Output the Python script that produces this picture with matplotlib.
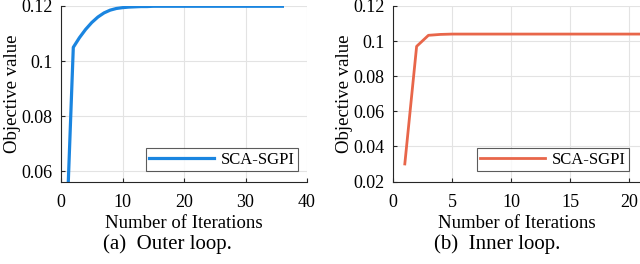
import matplotlib
matplotlib.use("Agg")
import matplotlib.pyplot as plt

# Outer loop data
outer_iter = list(range(1, 37))
outer_vals = [0.045, 0.105, 0.1085, 0.1115, 0.1140, 0.1160, 0.1175, 0.1185, 0.1191, 0.1194,
              0.1196, 0.1197, 0.1198, 0.1198, 0.1199, 0.1199, 0.1199, 0.1199, 0.1199, 0.1199,
              0.1199, 0.1199, 0.1199, 0.1199, 0.1199, 0.1199, 0.1199, 0.1199, 0.1199, 0.1199,
              0.1199, 0.1199, 0.1199, 0.1199, 0.1199, 0.1199]

# Inner loop data
inner_iter = list(range(1, 23))
inner_vals = [0.030, 0.097, 0.1033, 0.1038, 0.1040, 0.1040, 0.1040, 0.1040, 0.1040, 0.1040,
              0.1040, 0.1040, 0.1040, 0.1040, 0.1040, 0.1040, 0.1040, 0.1040, 0.1040, 0.1040,
              0.1040, 0.1040]

outer_xticks = [0, 10, 20, 30, 40]
outer_yticks = [0.06, 0.08, 0.1, 0.12]
outer_ytick_labels = ["0.06", "0.08", "0.1", "0.12"]
inner_xticks = [0, 5, 10, 15, 20]
inner_yticks = [0.02, 0.04, 0.06, 0.08, 0.1, 0.12]
inner_ytick_labels = ["0.02", "0.04", "0.06", "0.08", "0.1", "0.12"]

series_label = "SCA-SGPI"
captions = ["(a)  Outer loop.", "(b)  Inner loop."]

plt.rcParams['font.family'] = ['Liberation Serif', 'DejaVu Serif']
plt.rcParams['font.size'] = 13

fig = plt.figure(figsize=(6.4, 2.64), dpi=100)
W, H = 640, 264

def px_ax(l, r, t, b):
    return fig.add_axes([l / W, 1 - b / H, (r - l) / W, (b - t) / H])

ax1 = px_ax(61, 307, 6, 181.5)
ax2 = px_ax(393, 641, 6, 181.5)

def style(ax):
    ax.grid(True, color='#e3e3e3', linewidth=0.8)
    ax.set_axisbelow(True)
    for s in ['top', 'right']:
        ax.spines[s].set_visible(False)
    for s in ['left', 'bottom']:
        ax.spines[s].set_color('#262626')
        ax.spines[s].set_linewidth(0.8)
    ax.tick_params(direction='in', length=3, width=0.8, color='#262626',
                   labelsize=13)
    ax.tick_params(axis='x', pad=9)
    ax.tick_params(axis='y', pad=6)
    ax.set_xlabel("Number of Iterations", fontsize=13.5, labelpad=3)
    ax.set_ylabel("Objective value", fontsize=13.5, labelpad=0)

ax1.plot(outer_iter, outer_vals, color='#1a85e0', linewidth=2.3, label=series_label,
         solid_joinstyle='round', clip_on=True)
ax1.set_xlim(0, 40)
ax1.set_ylim(0.0563, 0.12)
ax1.set_xticks(outer_xticks)
ax1.set_yticks(outer_yticks)
ax1.set_yticklabels(outer_ytick_labels)
style(ax1)

ax2.plot(inner_iter, inner_vals, color='#e8664a', linewidth=2.0, label=series_label,
         solid_joinstyle='round')
ax2.set_xlim(0, 21)
ax2.set_ylim(0.02, 0.12)
ax2.set_xticks(inner_xticks)
ax2.set_yticks(inner_yticks)
ax2.set_yticklabels(inner_ytick_labels)
style(ax2)

for ax, bbox in [(ax1, (162, 147, 298, 171)), (ax2, (493, 147, 629, 171))]:
    l, t, r, b = bbox
    leg = ax.legend(loc='lower right', fontsize=12, frameon=True, fancybox=False,
                    handlelength=3.9, handletextpad=0.4, borderpad=0.2,
                    borderaxespad=0,
                    bbox_to_anchor=(r / W, 1 - b / H), bbox_transform=fig.transFigure)
    leg.get_frame().set_edgecolor('#333333')
    leg.get_frame().set_linewidth(0.8)

fig.text(167 / W, 1 - 244 / H, captions[0], ha='center', va='center', fontsize=15)
fig.text(497 / W, 1 - 244 / H, captions[1], ha='center', va='center', fontsize=15)

fig.savefig("out.png", dpi=100)
